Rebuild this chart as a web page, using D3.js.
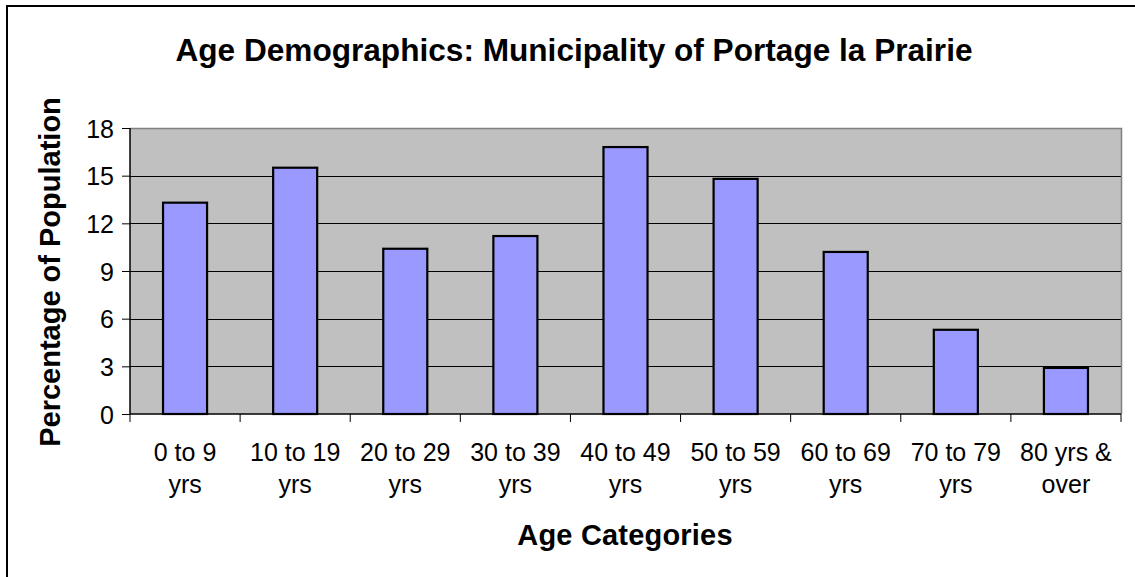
<!DOCTYPE html>
<html>
<head>
<meta charset="utf-8">
<script src="https://cdn.jsdelivr.net/npm/d3@7"></script>
<style>
  html, body { margin: 0; padding: 0; background: #fff; }
  svg { display: block; font-family: "Liberation Sans", Arial, sans-serif; }
</style>
</head>
<body>
<svg id="chart" width="1135" height="577"></svg>
<script>
const categories = ["0 to 9 yrs", "10 to 19 yrs", "20 to 29 yrs", "30 to 39 yrs", "40 to 49 yrs", "50 to 59 yrs", "60 to 69 yrs", "70 to 79 yrs", "80 yrs & over"];
const categoryLines = [["0 to 9", "yrs"], ["10 to 19", "yrs"], ["20 to 29", "yrs"], ["30 to 39", "yrs"], ["40 to 49", "yrs"], ["50 to 59", "yrs"], ["60 to 69", "yrs"], ["70 to 79", "yrs"], ["80 yrs &", "over"]];
const values = [13.3, 15.5, 10.4, 11.2, 16.8, 14.8, 10.2, 5.3, 2.9];
const yTicks = [0, 3, 6, 9, 12, 15, 18];

const svg = d3.select("#chart");
const plot = { left: 130, right: 1121, top: 128, bottom: 414 };

// outer frame (extends past canvas on right/bottom)
svg.append("rect").attr("x", 7).attr("y", 6).attr("width", 1200).attr("height", 700)
  .attr("fill", "#fff").attr("stroke", "#000").attr("stroke-width", 2);

const x = d3.scaleBand().domain(categories).range([plot.left, plot.right]).paddingInner(0.6).paddingOuter(0.3);
const xb = d3.scaleBand().domain(categories).range([plot.left, plot.right]);
const y = d3.scaleLinear().domain([0, 18]).range([plot.bottom, plot.top]);

// plot background
svg.append("rect").attr("x", plot.left).attr("y", plot.top)
  .attr("width", plot.right - plot.left).attr("height", plot.bottom - plot.top)
  .attr("fill", "#c0c0c0");

// gridlines
svg.append("g").selectAll("line").data(yTicks.filter(d => d > 0 && d < 18)).join("line")
  .attr("x1", plot.left).attr("x2", plot.right)
  .attr("y1", d => Math.round(y(d)) + 0.5).attr("y2", d => Math.round(y(d)) + 0.5)
  .attr("stroke", "#000").attr("stroke-width", 1);

// plot border top/right gray
svg.append("path")
  .attr("d", `M${plot.left},${plot.top + 0.5}H${plot.right + 0.5}V${plot.bottom}`)
  .attr("fill", "none").attr("stroke", "#808080").attr("stroke-width", 1.5);

// bars
svg.append("g").selectAll("rect").data(values).join("rect")
  .attr("x", (d, i) => x(categories[i]))
  .attr("width", x.bandwidth())
  .attr("y", d => y(d))
  .attr("height", d => y(0) - y(d))
  .attr("fill", "#9999ff").attr("stroke", "#000").attr("stroke-width", 2.2);

// y axis
const yAxis = d3.axisLeft(y).tickValues(yTicks).tickSize(8).tickPadding(8);
const gy = svg.append("g").attr("transform", `translate(${plot.left},0)`).call(yAxis);
gy.select(".domain").attr("stroke", "#000").attr("stroke-width", 1.5).attr("d", `M0,${plot.top}V${plot.bottom}`);
gy.selectAll(".tick line").attr("stroke", "#000");
gy.selectAll(".tick text").attr("font-size", 25).attr("fill", "#000")
  .attr("font-family", "Liberation Sans, Arial, sans-serif").attr("dy", "0.36em");

// x axis
const xAxis = d3.axisBottom(xb).tickSize(0).tickFormat("");
const gx = svg.append("g").attr("transform", `translate(0,${plot.bottom})`).call(xAxis);
gx.select(".domain").attr("stroke", "#000").attr("stroke-width", 1.5).attr("d", `M${plot.left},0H${plot.right}`);
gx.selectAll(".tick").remove();
const bounds = categories.map(c => xb(c)).concat([plot.right]);
gx.append("g").selectAll("line").data(bounds).join("line")
  .attr("x1", d => d).attr("x2", d => d).attr("y1", 0).attr("y2", 8)
  .attr("stroke", "#000").attr("stroke-width", 1);

// category labels
const lbl = svg.append("g").attr("font-size", 25).attr("fill", "#000").attr("text-anchor", "middle");
categoryLines.forEach((lines, i) => {
  const cx = xb(categories[i]) + xb.bandwidth() / 2;
  lines.forEach((t, j) => {
    lbl.append("text").attr("x", cx).attr("y", 461 + j * 32).text(t);
  });
});

// title
svg.append("text").attr("x", 574).attr("y", 61).attr("text-anchor", "middle")
  .attr("font-size", 31.6).attr("font-weight", "bold").attr("fill", "#000")
  .text("Age Demographics: Municipality of Portage la Prairie");

// axis titles
svg.append("text").attr("x", 625).attr("y", 545).attr("text-anchor", "middle")
  .attr("font-size", 29).attr("font-weight", "bold").attr("fill", "#000")
  .attr("letter-spacing", 0.2)
  .text("Age Categories");

svg.append("text").attr("transform", `translate(60,272) rotate(-90)`).attr("text-anchor", "middle")
  .attr("font-size", 29).attr("font-weight", "bold").attr("fill", "#000")
  .text("Percentage of Population");
</script>
</body>
</html>
